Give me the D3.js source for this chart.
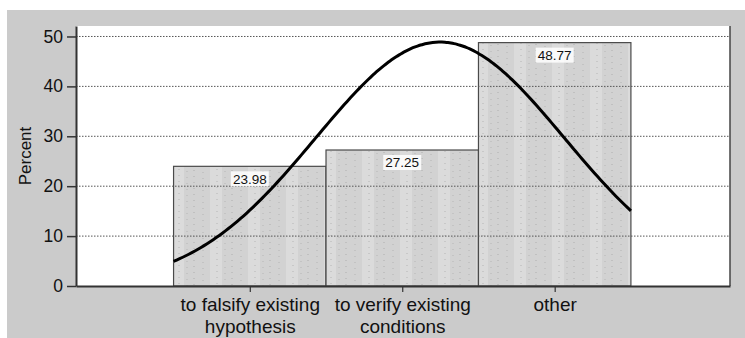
<!DOCTYPE html>
<html><head><meta charset="utf-8">
<script src="https://cdn.jsdelivr.net/npm/d3@7"></script>
<style>body{margin:0;background:#fff}svg{display:block}</style>
</head><body>
<script>
const categories = ["to falsify existing|hypothesis", "to verify existing|conditions", "other"];
const percents = [23.98, 27.25, 48.77];
const yTicks = [0, 10, 20, 30, 40, 50];
const yLabel = "Percent";

const W = 745, H = 338;
const m = {left: 76, right: 15, top: 26, bottom: 52};
const svg = d3.select("body").append("svg").attr("width", W).attr("height", H);
svg.append("rect").attr("x", 7).attr("y", 10).attr("width", W - 7).attr("height", H - 10).attr("fill", "#cbcbcb");

const x0 = m.left, x1 = W - m.right, y0 = H - m.bottom, y1 = m.top;
svg.append("rect").attr("x", x0).attr("y", y1).attr("width", x1 - x0).attr("height", y0 - y1).attr("fill", "#fff");

const idx = categories.map((d, i) => i + 1);
const x = d3.scaleLinear().domain([-0.14, 4.15]).range([x0, x1]);
const y = d3.scaleLinear().domain([0, 52.1]).range([y0, y1]);
const FONT = "Liberation Sans, Arial, sans-serif";

// pattern
const defs = svg.append("defs");
const pat = defs.append("pattern").attr("id", "tex").attr("patternUnits", "userSpaceOnUse").attr("width", 38).attr("height", 6);
pat.append("rect").attr("width", 38).attr("height", 6).attr("fill", "#d2d2d2");
pat.append("rect").attr("x", 20).attr("width", 12).attr("height", 6).attr("fill", "#dbdbdb");
pat.append("rect").attr("x", 3).attr("y", 2).attr("width", 2).attr("height", 1).attr("fill", "#c0c0c0");
pat.append("rect").attr("x", 12).attr("y", 4).attr("width", 2).attr("height", 1).attr("fill", "#c3c3c3");
pat.append("rect").attr("x", 26).attr("y", 1).attr("width", 2).attr("height", 1).attr("fill", "#c8c8c8");
pat.append("rect").attr("x", 34).attr("y", 3).attr("width", 2).attr("height", 1).attr("fill", "#c4c4c4");

// bars
svg.selectAll("rect.bar").data(percents).enter().append("rect").attr("class", "bar")
  .attr("x", (d, i) => x(idx[i] - 0.5)).attr("width", (d, i) => x(idx[i] + 0.5) - x(idx[i] - 0.5))
  .attr("y", d => y(d)).attr("height", d => y(0) - y(d))
  .attr("fill", "url(#tex)").attr("stroke", "#4a4a4a").attr("stroke-width", 1.2);

// gridlines
svg.selectAll("line.grid").data(yTicks.filter(t => t > 0)).enter().append("line")
  .attr("x1", x0).attr("x2", x1).attr("y1", d => y(d)).attr("y2", d => y(d))
  .attr("stroke", "#555").attr("stroke-width", 1).attr("stroke-dasharray", "1.5,1.5");

// normal curve from data
const w = percents.map(p => p / 100);
const mean = d3.sum(idx.map((v, i) => v * w[i]));
const sd = Math.sqrt(d3.sum(idx.map((v, i) => (v - mean) ** 2 * w[i])));
const pts = d3.range(0.5, 3.5001, 0.02).map(v => [v, 100 / (sd * Math.sqrt(2 * Math.PI)) * Math.exp(-0.5 * ((v - mean) / sd) ** 2)]);
svg.append("path").datum(pts).attr("fill", "none").attr("stroke", "#000").attr("stroke-width", 3)
  .attr("d", d3.line().x(d => x(d[0])).y(d => y(d[1])).curve(d3.curveBasis));

// value labels
const lab = svg.selectAll("g.lab").data(percents).enter().append("g")
  .attr("transform", (d, i) => `translate(${x(idx[i])},${y(d) + 12.5})`);
lab.append("rect").attr("x", -19).attr("y", -7.5).attr("width", 38).attr("height", 15).attr("fill", "#fff").attr("opacity", 0.85);
lab.append("text").attr("text-anchor", "middle").attr("dy", "0.36em").attr("font-family", FONT)
  .attr("font-size", 13.5).attr("fill", "#111").text(d => d.toFixed(2));

// frame
svg.append("line").attr("x1", x1).attr("x2", x1).attr("y1", y1).attr("y2", y0).attr("stroke", "#444").attr("stroke-width", 1.5);

// y axis
const ya = svg.append("g").attr("transform", `translate(${x0},0)`)
  .call(d3.axisLeft(y).tickValues(yTicks).tickSize(9).tickPadding(4).tickSizeOuter(0));
ya.select(".domain").attr("stroke", "#333").attr("stroke-width", 2);
ya.selectAll(".tick line").attr("stroke", "#333").attr("stroke-width", 1.5);
ya.selectAll("text").attr("font-family", FONT).attr("font-size", 17.5).attr("fill", "#111");

// x axis
const xa = svg.append("g").attr("transform", `translate(0,${y0})`)
  .call(d3.axisBottom(x).tickValues(idx).tickSize(6).tickSizeOuter(0).tickFormat(""));
xa.select(".domain").attr("stroke", "#333").attr("stroke-width", 2);
xa.selectAll(".tick line").attr("stroke", "#333").attr("stroke-width", 1.2);
xa.selectAll(".tick").each(function(d, i) {
  const t = d3.select(this).append("text").attr("text-anchor", "middle").attr("fill", "#111")
    .attr("font-family", FONT).attr("font-size", 19).attr("y", 25);
  categories[i].split("|").forEach((s, k) => t.append("tspan").attr("x", 0).attr("dy", k ? 22 : 0).text(s));
});

svg.append("text").attr("transform", `translate(31,${(y0 + y1) / 2}) rotate(-90)`).attr("text-anchor", "middle")
  .attr("font-family", FONT).attr("font-size", 17).attr("fill", "#111").text(yLabel);
</script>
</body></html>
